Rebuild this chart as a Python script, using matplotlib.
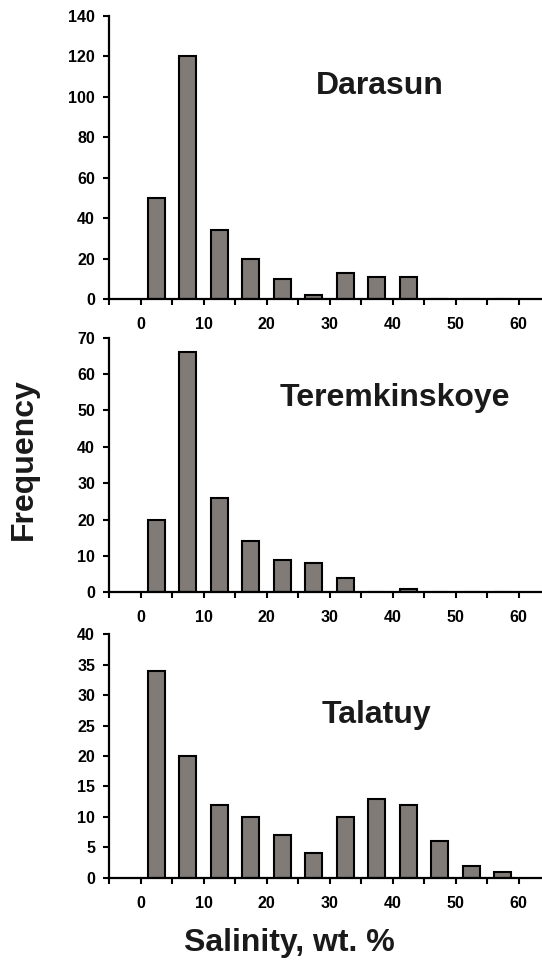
import numpy as np
import matplotlib
matplotlib.use('Agg')
import matplotlib.pyplot as plt

plt.rcParams['font.family'] = ['Liberation Sans', 'DejaVu Sans']
plt.rcParams['font.weight'] = 'bold'

# salinity bins (wt. %), 5 % wide
bin_left = [0, 5, 10, 15, 20, 25, 30, 35, 40, 45, 50, 55]

darasun = [50, 120, 34, 20, 10, 2, 13, 11, 11, 0, 0, 0]
teremkinskoye = [20, 66, 26, 14, 9, 8, 4, 0, 1, 0, 0, 0]
talatuy = [34, 20, 12, 10, 7, 4, 10, 13, 12, 6, 2, 1]

x_ticklabels = ['0', '10', '20', '30', '40', '50', '60']

panels = [
    ('Darasun', darasun, 140, 20, [0.2011, 0.6885, 0.799, 0.2951], (0.626, 0.7226)),
    ('Teremkinskoye', teremkinskoye, 70, 10, [0.2011, 0.3830, 0.799, 0.2652], (0.661, 0.732)),
    ('Talatuy', talatuy, 40, 5, [0.2011, 0.0857, 0.799, 0.2535], (0.617, 0.634)),
]

fig = plt.figure(figsize=(5.42, 9.6), dpi=100)

for name, counts, ymax, ystep, rect, txt in panels:
    ax = fig.add_axes(rect)
    centers = np.array(bin_left) + 2.5
    ax.bar(centers, counts, width=2.7, color='#807b76', edgecolor='black', linewidth=1.5)
    ax.set_xlim(-5, 63.7)
    ax.set_ylim(0, ymax)
    ax.set_yticks(np.arange(0, ymax + 1, ystep))
    ax.set_xticks(np.arange(-5, 61, 5))
    ax.set_xticklabels(['' if (t % 10) else str(t) for t in np.arange(-5, 61, 5)])
    for s in ['top', 'right']:
        ax.spines[s].set_visible(False)
    for s in ['left', 'bottom']:
        ax.spines[s].set_linewidth(1.6)
    ax.tick_params(axis='both', direction='out', length=4, width=1.5, labelsize=11.5)
    ax.tick_params(axis='x', pad=9)
    ax.tick_params(axis='y', pad=6)
    ax.text(txt[0], txt[1], name, transform=ax.transAxes, ha='center', va='baseline',
            fontsize=23, fontweight='bold', color='#1a1a1a')

fig.text(0.533, 0.0094, 'Salinity, wt. %', ha='center', va='baseline',
         fontsize=23, fontweight='bold', color='#1a1a1a')
fig.text(0.044, 0.522, 'Frequency', rotation=90, ha='center', va='center',
         fontsize=23, fontweight='bold', color='#1a1a1a')

fig.savefig('out.png', dpi=100)
